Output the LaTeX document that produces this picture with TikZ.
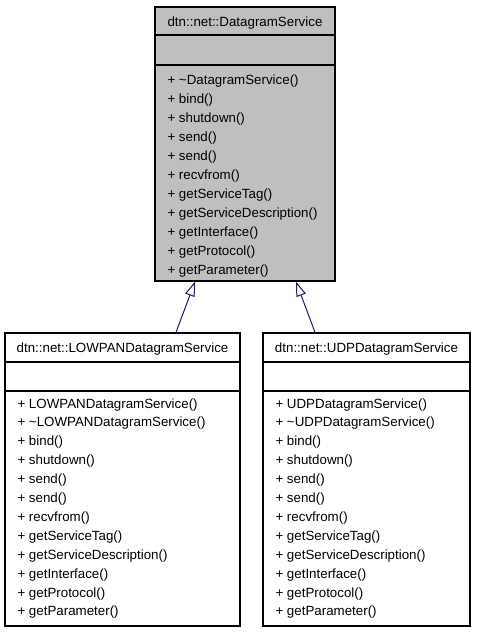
\documentclass[tikz,border=0pt]{standalone}
\usepackage{fontspec}
\setmainfont{Liberation Sans}
\usetikzlibrary{arrows.meta}

\definecolor{basegray}{RGB}{191,191,191}
\definecolor{edgeblue}{RGB}{25,25,112}

\tikzset{every picture/.style={line width=0.75pt}}
\tikzset{
  classbox/.style={draw=black, line width=0.9pt, rectangle, inner sep=0pt},
  classname/.style={anchor=base, inner sep=0pt, font=\fontsize{10}{12}\selectfont},
  member/.style={anchor=base west, inner sep=0pt, font=\fontsize{10}{12}\selectfont},
  inherit/.style={draw=edgeblue, line width=0.75pt, -{Triangle[length=11pt,width=7.5pt,fill=white]}}
}

\begin{document}
\begin{tikzpicture}[x=0.75pt,y=0.75pt,yscale=-1,xscale=1]
    \useasboundingbox (0,0) rectangle (477,632);

    %Shape: Rectangle [base class]
    \node[classbox, fill=basegray, minimum width=135pt, minimum height=205.5pt] (base) at (245,144) {};
    \draw [line width=0.9pt] (155,35) -- (335,35) ;
    \draw [line width=0.9pt] (155,65) -- (335,65) ;
    %Shape: Rectangle [lowpan class]
    \node[classbox, fill=white, minimum width=176.25pt, minimum height=219.75pt] (lowpan) at (122.5,479.5) {};
    \draw [line width=0.9pt] (5,362) -- (240,362) ;
    \draw [line width=0.9pt] (5,391) -- (240,391) ;
    %Shape: Rectangle [udp class]
    \node[classbox, fill=white, minimum width=155.25pt, minimum height=219.75pt] (udp) at (366.5,479.5) {};
    \draw [line width=0.9pt] (263,362) -- (470,362) ;
    \draw [line width=0.9pt] (263,391) -- (470,391) ;

    %Straight Lines [inheritance]
    \draw [inherit] ([xshift=40.1pt]lowpan.north) -- ([xshift=-37.5pt]base.south) ;
    \draw [inherit] ([xshift=-38.6pt]udp.north) -- ([xshift=38.25pt]base.south) ;

    % Text Node
    \node[classname] (base-name) at (245,26) {dtn::net::DatagramService};
    \node[classname] (lowpan-name) at (122.5,352.5) {dtn::net::LOWPANDatagramService};
    \node[classname] (udp-name) at (366.5,352.5) {dtn::net::UDPDatagramService};

    % Members
    \foreach \m [count=\i from 0] in {\textasciitilde DatagramService(), bind(), shutdown(), send(), send(), recvfrom(), getServiceTag(), getServiceDescription(), getInterface(), getProtocol(), getParameter()}
      \node[member] (base-m\i) at (167,84+19*\i) {+ \m};
    \foreach \m [count=\i from 0] in {LOWPANDatagramService(), \textasciitilde LOWPANDatagramService(), bind(), shutdown(), send(), send(), recvfrom(), getServiceTag(), getServiceDescription(), getInterface(), getProtocol(), getParameter()}
      \node[member] (lowpan-m\i) at (17,408+18.9*\i) {+ \m};
    \foreach \m [count=\i from 0] in {UDPDatagramService(), \textasciitilde UDPDatagramService(), bind(), shutdown(), send(), send(), recvfrom(), getServiceTag(), getServiceDescription(), getInterface(), getProtocol(), getParameter()}
      \node[member] (udp-m\i) at (275,408+18.9*\i) {+ \m};

\end{tikzpicture}
\end{document}
